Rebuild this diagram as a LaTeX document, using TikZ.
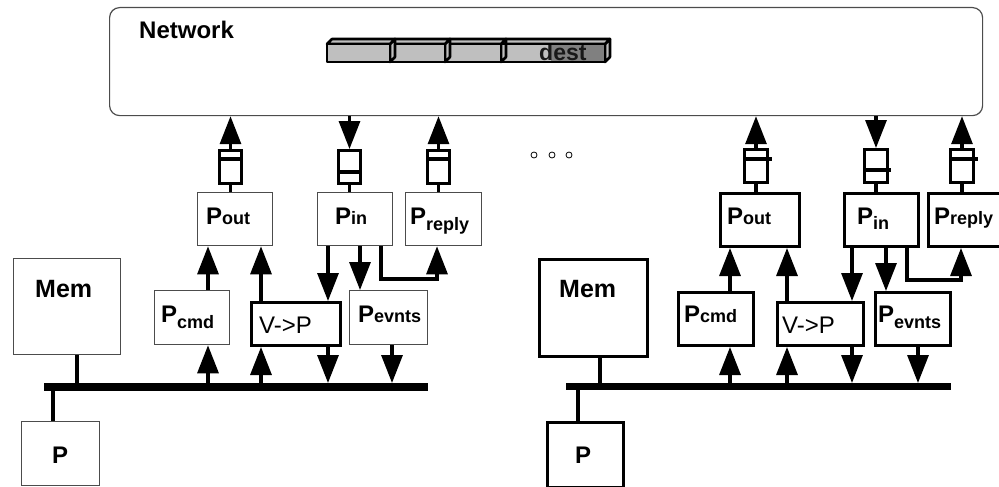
\documentclass[tikz,border=0pt]{standalone}
\usepackage{fontspec}
\setmainfont{Liberation Sans}
\usetikzlibrary{arrows.meta}
\newcommand{\Pl}[2]{\textbf{\fontsize{24}{24}\selectfont P\fontsize{18}{18}\selectfont\raisebox{#1}{#2}}}
\tikzset{
  thinbox/.style={draw=black!70, line width=1.3pt, fill=white, rectangle, inner sep=0pt, anchor=north west},
  thickbox/.style={draw=black, line width=3pt, fill=white, rectangle, inner sep=0pt, anchor=north west},
  arr/.style={line width=3.2pt, -{Triangle[length=28pt,width=21pt]}},
  ln/.style={line width=3.2pt},
  queue/.style={draw=black, line width=3pt, rectangle, inner sep=0pt, anchor=north west, minimum width=22pt, minimum height=33pt},
  lbl/.style={anchor=base west, inner sep=0pt},
  bus/.style={fill=black, rectangle, inner sep=0pt, anchor=north west},
  cellfill/.style={fill=black!25, draw=black, line width=2.6pt, line join=round},
  dot/.style={circle, draw=black, line width=0.8pt, minimum size=6pt, inner sep=0pt},
}
\begin{document}
\begin{tikzpicture}[x=1pt, y=-1pt]
\useasboundingbox (0,0) rectangle (999,487);
% network
\node[draw=black!70, line width=1.2pt, rounded corners=10pt, rectangle, inner sep=0pt, anchor=north west,
      minimum width=873pt, minimum height=108pt] (net) at (109,7) {};
\node[lbl] (nettxt) at (139,39) {\textbf{\fontsize{24}{24}\selectfont Network}};
% packet cells, drawn right to left
\foreach \a/\b in {501/605, 445/501, 390/445, 327/390} {
  \filldraw[cellfill] (\b,44) -- (\b+5,39) -- (\b+5,57) -- (\b,62) -- cycle;
  \filldraw[cellfill] (\a,44) -- (\a+5,39) -- (\b+5,39) -- (\b,44) -- cycle;
  \filldraw[cellfill] (\a,44) rectangle (\b,62);
}
\fill[black!50] (551,44) rectangle (605,62);
\begin{scope}
  \clip (501,44) rectangle (605,62);
  \node[lbl, text=black!90] (dest) at (539,61) {\textbf{\fontsize{23}{23}\selectfont dest}};
\end{scope}
\draw[line width=2.6pt, line join=round] (501,44) rectangle (605,62);
% dots
\node[dot] (d1) at (534,155) {};
\node[dot] (d2) at (552,155) {};
\node[dot] (d3) at (569,155) {};

% ================= LEFT NODE =================
\node[thinbox, minimum width=75pt, minimum height=53pt] (poutL) at (197,192) {};
\node[thinbox, minimum width=75pt, minimum height=53pt] (pinL) at (317,192) {};
\node[thinbox, minimum width=76pt, minimum height=53pt] (preplyL) at (405,192) {};
\node[thinbox, minimum width=75pt, minimum height=54pt] (pcmdL) at (154,290) {};
\node[thickbox, minimum width=89pt, minimum height=43pt] (vpL) at (250,301) {};
\node[thinbox, minimum width=78pt, minimum height=54pt] (pevL) at (349,290) {};
\node[thinbox, minimum width=107pt, minimum height=96pt] (memL) at (13,258) {};
\node[thinbox, minimum width=78pt, minimum height=64pt] (pL) at (21,421) {};
\node[bus, minimum width=384pt, minimum height=8pt] (busL) at (44,383) {};
\node[queue] (qoutL) at (218,149) {};
\node[queue] (qinL) at (337,149) {};
\node[queue] (qrepL) at (426,149) {};
\draw[ln] (qoutL.west |- 0,159) -- (qoutL.east |- 0,159);
\draw[ln] (qinL.west |- 0,172) -- (qinL.east |- 0,172);
\draw[ln] (qrepL.west |- 0,159) -- (qrepL.east |- 0,159);
% labels
\node[lbl] (tpoutL) at (206,224) {\Pl{0pt}{out}};
\node[lbl] (tpinL) at (335,224) {\Pl{0pt}{in}};
\node[lbl] (tprepL) at (410,224) {\Pl{-6pt}{reply}};
\node[lbl] (tpcmdL) at (161,322) {\Pl{-6pt}{cmd}};
\node[lbl] (tvpL) at (259,333) {\fontsize{24}{24}\selectfont V->P};
\node[lbl] (tpevL) at (358,322) {\Pl{0pt}{evnts}};
\node[lbl] (tmemL) at (35,297) {\textbf{\fontsize{25}{25}\selectfont Mem}};
\node[lbl] (tpL) at (52,463) {\textbf{\fontsize{24}{24}\selectfont P}};
% connectors
\draw[arr] (qoutL.north) -- (qoutL.north |- net.south);
\draw[arr] (qinL.north |- net.south) -- (qinL.north);
\draw[arr] (qrepL.north) -- (qrepL.north |- net.south);
\draw[ln] (qoutL.south) -- (qoutL.south |- poutL.north);
\draw[ln] (qinL.south) -- (qinL.south |- pinL.north);
\draw[ln] (qrepL.south) -- (qrepL.south |- preplyL.north);
\draw[arr] (208,0 |- pcmdL.north) -- (208,0 |- poutL.south);
\draw[arr] (208,0 |- busL.north) -- (208,0 |- pcmdL.south);
\draw[arr] (261,0 |- vpL.north) -- (261,0 |- poutL.south);
\draw[arr] (261,0 |- busL.north) -- (261,0 |- vpL.south);
\draw[arr] (328,0 |- pinL.south) -- (328,0 |- vpL.north);
\draw[arr] (328,0 |- vpL.south) -- (328,0 |- busL.north);
\draw[arr] (360,0 |- pinL.south) -- (360,0 |- pevL.north);
\draw[arr] (392,0 |- pevL.south) -- (392,0 |- busL.north);
\draw[arr, line join=miter] (381,0 |- pinL.south) |- (437,279) -- (437,0 |- preplyL.south);
\draw[ln] (77,0 |- memL.south) -- (77,0 |- busL.north);
\draw[ln] (53,0 |- busL.south) -- (53,0 |- pL.north);

% ================= RIGHT NODE =================
\node[thickbox, minimum width=79pt, minimum height=53pt] (poutR) at (719,192) {};
\node[thickbox, minimum width=74pt, minimum height=53pt] (pinR) at (843,192) {};
\node[thickbox, minimum width=80pt, minimum height=53pt] (preplyR) at (927,192) {};
\node[thickbox, minimum width=75pt, minimum height=53pt] (pcmdR) at (677,291) {};
\node[thickbox, minimum width=86pt, minimum height=43pt] (vpR) at (776,301) {};
\node[thickbox, minimum width=75pt, minimum height=53pt] (pevR) at (874,291) {};
\node[thickbox, minimum width=108pt, minimum height=97pt] (memR) at (538,258) {};
\node[thickbox, minimum width=76pt, minimum height=65pt] (pR) at (546,421) {};
\node[bus, minimum width=385pt, minimum height=7pt] (busR) at (566,383) {};
\node[queue, minimum width=23pt] (qoutR) at (743,148) {};
\node[queue, minimum width=23pt] (qinR) at (863,148) {};
\node[queue, minimum width=23pt] (qrepR) at (949,148) {};
\draw[ln] (qoutR.west |- 0,159) -- ([xshift=3pt]qoutR.east |- 0,159);
\draw[ln] (qinR.west |- 0,170) -- ([xshift=2pt]qinR.east |- 0,170);
\draw[ln] (qrepR.west |- 0,159) -- ([xshift=3pt]qrepR.east |- 0,159);
% labels
\node[lbl] (tpoutR) at (727,224) {\Pl{0pt}{out}};
\node[lbl] (tpinR) at (857,224) {\Pl{-5pt}{in}};
\node[lbl] (tprepR) at (934,224) {\Pl{0pt}{reply}};
\node[lbl] (tpcmdR) at (684,322) {\Pl{0pt}{cmd}};
\node[lbl] (tvpR) at (782,333) {\fontsize{24}{24}\selectfont V->P};
\node[lbl] (tpevR) at (878,322) {\Pl{-6pt}{evnts}};
\node[lbl] (tmemR) at (559,297) {\textbf{\fontsize{25}{25}\selectfont Mem}};
\node[lbl] (tpR) at (575,463) {\textbf{\fontsize{24}{24}\selectfont P}};
% connectors
\draw[arr] (qoutR.north) -- (qoutR.north |- net.south);
\draw[arr] (qinR.north |- net.south) -- (qinR.north);
\draw[arr] (qrepR.north) -- (qrepR.north |- net.south);
\draw[ln] (qoutR.south) -- (qoutR.south |- poutR.north);
\draw[ln] (qinR.south) -- (qinR.south |- pinR.north);
\draw[ln] (qrepR.south) -- (qrepR.south |- preplyR.north);
\draw[arr] (730,0 |- pcmdR.north) -- (730,0 |- poutR.south);
\draw[arr] (730,0 |- busR.north) -- (730,0 |- pcmdR.south);
\draw[arr] (787,0 |- vpR.north) -- (787,0 |- poutR.south);
\draw[arr] (787,0 |- busR.north) -- (787,0 |- vpR.south);
\draw[arr] (852,0 |- pinR.south) -- (852,0 |- vpR.north);
\draw[arr] (852,0 |- vpR.south) -- (852,0 |- busR.north);
\draw[arr] (886,0 |- pinR.south) -- (886,0 |- pevR.north);
\draw[arr] (918,0 |- pevR.south) -- (918,0 |- busR.north);
\draw[arr, line join=miter] (907,0 |- pinR.south) |- (961,280) -- (961,0 |- preplyR.south);
\draw[ln] (600,0 |- memR.south) -- (600,0 |- busR.north);
\draw[ln] (578,0 |- busR.south) -- (578,0 |- pR.north);
\end{tikzpicture}
\end{document}
